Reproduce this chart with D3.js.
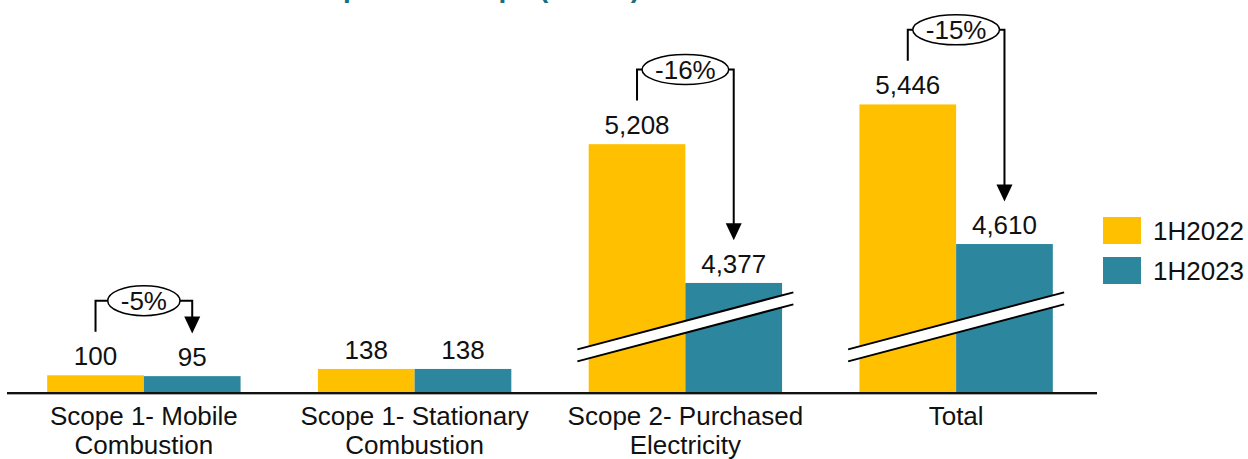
<!DOCTYPE html>
<html>
<head>
<meta charset="utf-8">
<script src="https://cdn.jsdelivr.net/npm/d3@7"></script>
<style>
  html, body { margin: 0; padding: 0; background: #fff; }
  svg { display: block; font-family: "Liberation Sans", Arial, sans-serif; }
</style>
</head>
<body>
<svg id="chart" width="1248" height="459"></svg>
<script>
// ---- data ----
const titleText = "Carbon Footprint of Scope (tCO2e)";
const categories = ["Scope 1- Mobile\nCombustion", "Scope 1- Stationary\nCombustion", "Scope 2- Purchased\nElectricity", "Total"];
const seriesNames = ["1H2022", "1H2023"];
const values2022 = [100, 138, 5208, 5446];
const values2023 = [95, 138, 4377, 4610];
const changeLabels = ["-5%", null, "-16%", "-15%"];
const brokenBars = [false, false, true, true];
const seriesColors = ["#FFC000", "#2C869D"];

// ---- layout ----
const svg = d3.select("#chart");
const baseY = 392;
const FONT = 26;

const x0 = d3.scaleBand().domain(categories).range([8.5, 1091.5]).paddingInner(0).paddingOuter(0);
const x1 = d3.scaleBand().domain(seriesNames).range([0, x0.bandwidth()]).paddingInner(0).paddingOuter(0.4);

// broken value axis: same slope, a gap removed between breakLo and breakHi
const slope = 0.167;
const breakLo = 390, breakHi = 4114;
const yBreak = baseY - breakLo * slope;
const y = d3.scaleLinear()
  .domain([0, breakLo, breakHi, 6000])
  .range([baseY, yBreak, yBreak, yBreak - (6000 - breakHi) * slope]);

// title (mostly cut off at the top of the picture)
const title = svg.append("text")
  .attr("y", -3)
  .attr("font-size", 28)
  .attr("font-weight", "bold")
  .attr("fill", "#1B6E80")
  .text(titleText);
const pIdx = titleText.indexOf("p");
const prefixW = title.node().getSubStringLength(0, pIdx);
title.attr("x", 343 - prefixW);

const rows = categories.map((c, i) => ({ cat: c, vals: [values2022[i], values2023[i]], change: changeLabels[i], broken: brokenBars[i] }));

const groups = svg.append("g").selectAll("g").data(rows).join("g")
  .attr("transform", d => `translate(${x0(d.cat)},0)`);

// bars
groups.selectAll("rect").data(d => d.vals.map((v, j) => ({ v, s: seriesNames[j], j })))
  .join("rect")
  .attr("x", d => x1(d.s))
  .attr("width", x1.bandwidth())
  .attr("y", d => y(d.v))
  .attr("height", d => baseY - y(d.v))
  .attr("fill", d => seriesColors[d.j]);

// value labels
groups.selectAll("text.val").data(d => d.vals.map((v, j) => ({ v, s: seriesNames[j] })))
  .join("text").attr("class", "val")
  .attr("x", d => x1(d.s) + x1.bandwidth() / 2)
  .attr("y", d => y(d.v) - 10)
  .attr("text-anchor", "middle")
  .attr("font-size", FONT)
  .attr("fill", "#111")
  .text(d => d3.format(",")(d.v));

// break marks
groups.filter(d => d.broken).each(function () {
  const g = d3.select(this);
  const cx = x0.bandwidth() / 2;
  const xl = cx - 108, xr = cx + 108, rise = 28.5, half = 6;
  const yc = yBreak;
  g.append("path")
    .attr("d", `M${xl},${yc + rise - half}L${xr},${yc - rise - half}L${xr},${yc - rise + half}L${xl},${yc + rise + half}Z`)
    .attr("fill", "#fff");
  [-half, half].forEach(o => {
    g.append("line")
      .attr("x1", xl).attr("y1", yc + rise + o)
      .attr("x2", xr).attr("y2", yc - rise + o)
      .attr("stroke", "#000").attr("stroke-width", 2);
  });
});

// change annotations
groups.filter(d => d.change).each(function (d) {
  const g = d3.select(this);
  const cap = FONT * 0.716;
  const top = v => y(v) - 10 - cap;
  const xL = x1(seriesNames[0]) + x1.bandwidth() / 2;
  const xR = x1(seriesNames[1]) + x1.bandwidth() / 2;
  const cx = x0.bandwidth() / 2;
  const by = Math.min(top(d.vals[0]), top(d.vals[1])) - 46;
  const tip = top(d.vals[1]) - 14;
  const t = g.append("text")
    .attr("x", cx).attr("y", by).attr("dy", "0.35em")
    .attr("text-anchor", "middle").attr("font-size", FONT).attr("fill", "#111")
    .text(d.change);
  const w = t.node().getComputedTextLength();
  const rx = w / 2 + 13, ry = 15;
  g.insert("ellipse", "text")
    .attr("cx", cx).attr("cy", by).attr("rx", rx).attr("ry", ry)
    .attr("fill", "#fff").attr("stroke", "#000").attr("stroke-width", 1.5);
  g.append("path")
    .attr("d", `M${xL},${top(d.vals[0]) - 15}V${by}H${cx - rx}`)
    .attr("fill", "none").attr("stroke", "#000").attr("stroke-width", 2);
  g.append("path")
    .attr("d", `M${cx + rx},${by}H${xR}V${tip - 15}`)
    .attr("fill", "none").attr("stroke", "#000").attr("stroke-width", 2);
  g.append("path")
    .attr("d", `M${xR - 8},${tip - 17}L${xR + 8},${tip - 17}L${xR},${tip}Z`)
    .attr("fill", "#000");
});

// baseline
svg.append("line").attr("x1", 7).attr("x2", 1097).attr("y1", baseY + 2.5).attr("y2", baseY + 2.5)
  .attr("stroke", "#aaa").attr("stroke-width", 1);
svg.append("line").attr("x1", 7).attr("x2", 1097).attr("y1", baseY + 1).attr("y2", baseY + 1)
  .attr("stroke", "#111").attr("stroke-width", 2);

// category axis
const axis = svg.append("g").attr("transform", `translate(0,${baseY})`)
  .call(d3.axisBottom(x0).tickSize(0).tickPadding(0));
axis.select(".domain").remove();
axis.selectAll(".tick text").each(function (d) {
  const el = d3.select(this);
  el.text(null).attr("font-size", FONT).attr("fill", "#111")
    .attr("font-family", "Liberation Sans, Arial, sans-serif").attr("dy", null).attr("y", 0);
  d.split("\n").forEach((line, i) => {
    el.append("tspan").attr("x", 0).attr("y", 33 + i * 28.5).text(line);
  });
});

// legend
const legend = svg.append("g").selectAll("g").data(seriesNames).join("g")
  .attr("transform", (d, i) => `translate(1103,${217 + i * 40})`);
legend.append("rect").attr("width", 38).attr("height", 27).attr("fill", (d, i) => seriesColors[i]);
legend.append("text").attr("x", 50).attr("y", 13.5).attr("dy", "0.35em")
  .attr("font-size", FONT).attr("fill", "#111").text(d => d);
</script>
</body>
</html>
